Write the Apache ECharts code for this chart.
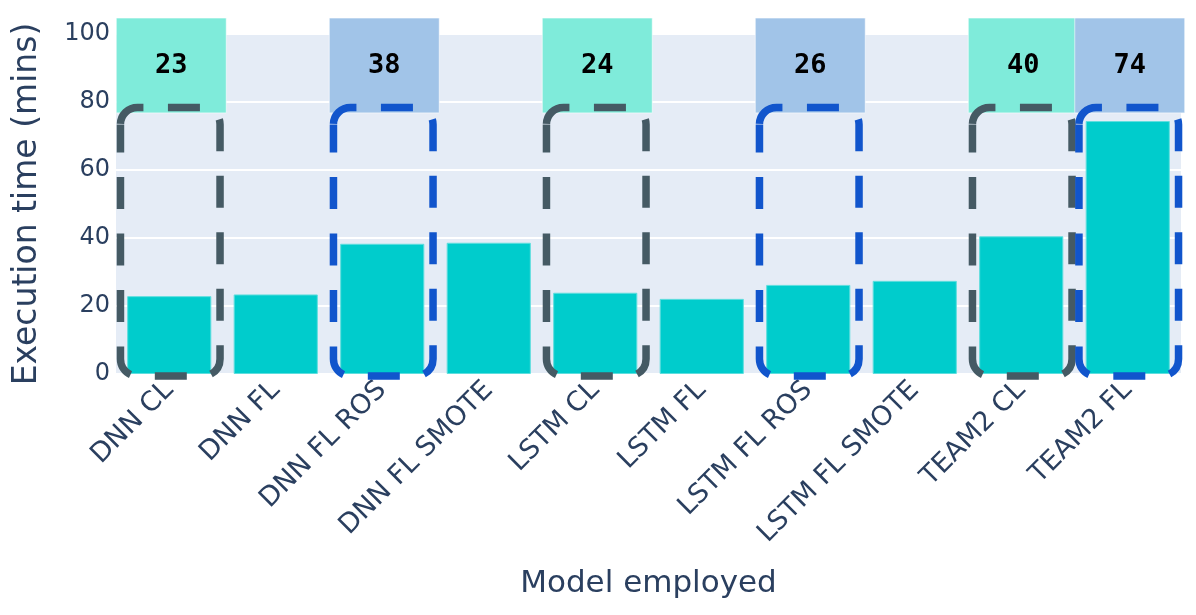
<!DOCTYPE html>
<html>
<head>
<meta charset="utf-8">
<script src="https://cdn.jsdelivr.net/npm/echarts@6/dist/echarts.min.js"></script>
<style>
html,body{margin:0;padding:0;background:#fff;}
#chart{width:1196px;height:615px;}
</style>
</head>
<body>
<div id="chart"></div>
<script>
const categories = ['DNN CL','DNN FL','DNN FL ROS','DNN FL SMOTE','LSTM CL','LSTM FL','LSTM FL ROS','LSTM FL SMOTE','TEAM2 CL','TEAM2 FL'];
const execTime = [22.9, 23.4, 38.3, 38.6, 23.9, 22.1, 26.2, 27.4, 40.5, 74.4];
const yTicks = [0, 20, 40, 60, 80, 100];
const highlightCats = ['DNN CL','DNN FL ROS','LSTM CL','LSTM FL ROS','TEAM2 CL','TEAM2 FL'];
const highlightText = ['23','38','24','26','40','74'];
const highlightGroup = ['CL','FL','CL','FL','CL','FL'];

const boxFill = {CL:'#7FEBDA', FL:'#A1C4E8'};
const dashColor = {CL:'#455A64', FL:'#1155CC'};
const FONT = '"DejaVu Sans", Verdana, sans-serif';
const TXT = '#2a3f5f';

const chart = echarts.init(document.getElementById('chart'));
const hlData = highlightCats.map(c => [c]);

function roundRectPath(x0, y0, x1, y1, r){
  // starts at the top-left corner arc (left side), clockwise
  return 'M' + x0 + ' ' + (y0 + r) +
    ' A' + r + ' ' + r + ' 0 0 1 ' + (x0 + r) + ' ' + y0 +
    ' L' + (x1 - r) + ' ' + y0 +
    ' A' + r + ' ' + r + ' 0 0 1 ' + x1 + ' ' + (y0 + r) +
    ' L' + x1 + ' ' + (y1 - r) +
    ' A' + r + ' ' + r + ' 0 0 1 ' + (x1 - r) + ' ' + y1 +
    ' L' + (x0 + r) + ' ' + y1 +
    ' A' + r + ' ' + r + ' 0 0 1 ' + x0 + ' ' + (y1 - r) +
    ' L' + x0 + ' ' + (y0 + r);
}

chart.setOption({
  animation:false,
  backgroundColor:'#fff',
  grid:{left:116, right:15, top:34, bottom:241, show:true, backgroundColor:'#E5ECF6', borderWidth:0},
  xAxis:{
    type:'category', data:categories,
    name:'Model employed', nameLocation:'middle', nameGap:194,
    nameTextStyle:{fontFamily:FONT, fontSize:31, color:TXT},
    axisLine:{show:false}, axisTick:{show:false},
    axisLabel:{rotate:45, fontFamily:FONT, fontSize:27, color:TXT, margin:12, interval:0}
  },
  yAxis:{
    type:'value', min:yTicks[0], max:yTicks[yTicks.length-1], interval:20,
    name:'Execution time (mins)', nameLocation:'middle', nameGap:72,
    nameTextStyle:{fontFamily:FONT, fontSize:33, color:TXT},
    axisLine:{show:false}, axisTick:{show:false},
    axisLabel:{fontFamily:FONT, fontSize:24, color:TXT, margin:6},
    splitLine:{lineStyle:{color:'#ffffff', width:2}}
  },
  series:[
    {
      type:'bar', data:execTime, barCategoryGap:'21%', z:2,
      itemStyle:{color:'#00CCCC', borderColor:'#5fdede', borderWidth:1}
    },
    {
      type:'custom', data:hlData, encode:{x:0}, z:3, clip:false,
      renderItem:function(params, api){
        const i = params.dataIndex;
        const idx = categories.indexOf(highlightCats[i]);
        const c = api.coord([idx, 0]);
        const top = api.coord([idx, 104.7])[1];
        const bot = api.coord([idx, 76.8])[1];
        const w = 110;
        const cx = c[0] + 2;
        return {
          type:'group',
          children:[
            {type:'rect', shape:{x:cx - w/2, y:top, width:w, height:bot-top},
             style:{fill:boxFill[highlightGroup[i]], stroke:'rgba(255,255,255,0.6)', lineWidth:1}},
            {type:'text', style:{x:cx, y:(top+bot)/2 + 1, text:highlightText[i], align:'center', verticalAlign:'middle',
              fontFamily:'"DejaVu Sans Mono", monospace', fontSize:27, fontWeight:'bold', fill:'#000'}}
          ]
        };
      }
    },
    {
      type:'custom', data:hlData, encode:{x:0}, z:4, clip:false,
      renderItem:function(params, api){
        const i = params.dataIndex;
        const idx = categories.indexOf(highlightCats[i]);
        const c = api.coord([idx, 0]);
        const bw = api.size([1, 0])[0];
        const top = api.coord([idx, 78.4])[1];
        const bot = api.coord([idx, -0.6])[1];
        const w = bw * 0.935;
        const x0 = c[0] - w/2 + 1, x1 = x0 + w;
        return {
          type:'path',
          shape:{pathData:roundRectPath(x0, top, x1, bot, 17), x:x0, y:top, width:w, height:bot-top, layout:'cover'},
          style:{fill:'none', stroke:dashColor[highlightGroup[i]], lineWidth:7.5, lineDash:[32,24.5], lineDashOffset:56}
        };
      }
    }
  ]
});
</script>
</body>
</html>
